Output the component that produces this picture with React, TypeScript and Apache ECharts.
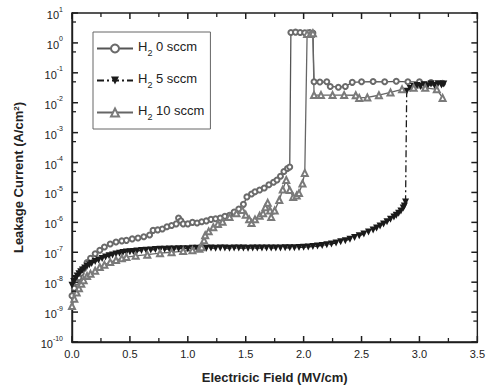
import React, { useEffect, useRef } from "react";
import * as echarts from "echarts";

const seriesNames = ["H2 0 sccm", "H2 5 sccm", "H2 10 sccm"];
const xTicks = { min: 0, max: 3.5, interval: 0.5 };
// y axis in decades (log10 of A/cm2)
const yDecades = { min: -10, max: 1, interval: 1 };
const xMajorTicks = [0, 0.5, 1.0, 1.5, 2.0, 2.5, 3.0, 3.5];
const xMinorTicks = [0.25, 0.75, 1.25, 1.75, 2.25, 2.75, 3.25];
const yMajorTicks = [-10, -9, -8, -7, -6, -5, -4, -3, -2, -1, 0, 1];
const yMinorTicks = [-9.301, -8.301, -7.301, -6.301, -5.301, -4.301, -3.301, -2.301, -1.301, -0.301, 0.699];

// H2 0 sccm (open circles)
const e0 = [0, 0.02, 0.04, 0.06, 0.08, 0.1, 0.13, 0.16, 0.2, 0.24, 0.28, 0.33, 0.38, 0.43, 0.47, 0.52, 0.57, 0.62, 0.67, 0.7, 0.74, 0.78, 0.82, 0.86, 0.9, 0.92, 0.94, 0.96, 1.0, 1.04, 1.08, 1.12, 1.16, 1.2, 1.24, 1.28, 1.32, 1.36, 1.4, 1.44, 1.48, 1.51, 1.55, 1.58, 1.62, 1.66, 1.7, 1.74, 1.77, 1.8, 1.83, 1.86, 1.88, 1.89, 1.93, 1.97, 2.01, 2.05, 2.08, 2.09, 2.14, 2.2, 2.23, 2.3, 2.36, 2.42, 2.5, 2.6, 2.7, 2.8, 2.9, 3.0, 3.1, 3.2];
const j0 = [3.5e-9, 6.3e-9, 1.0e-8, 1.4e-8, 2.0e-8, 2.8e-8, 4.5e-8, 6.3e-8, 8.9e-8, 1.17e-7, 1.5e-7, 1.9e-7, 2.2e-7, 2.4e-7, 2.5e-7, 2.8e-7, 3.0e-7, 3.3e-7, 3.8e-7, 5.4e-7, 5.6e-7, 6.0e-7, 7.1e-7, 7.9e-7, 8.9e-7, 1.4e-6, 1.12e-6, 8.9e-7, 8.9e-7, 1.0e-6, 9.5e-7, 1.05e-6, 1.12e-6, 1.26e-6, 1.32e-6, 1.4e-6, 1.6e-6, 1.74e-6, 2.2e-6, 2.8e-6, 4.0e-6, 7.1e-6, 8.9e-6, 1.05e-5, 1.2e-5, 1.4e-5, 1.8e-5, 2.2e-5, 2.6e-5, 3.5e-5, 5.0e-5, 6.3e-5, 7.1e-5, 2.24, 2.29, 2.24, 2.19, 2.24, 2.14, 0.05, 0.049, 0.05, 0.035, 0.033, 0.035, 0.048, 0.05, 0.051, 0.05, 0.052, 0.05, 0.05, 0.047, 0.045];

// H2 5 sccm (filled down triangles)
const e5 = [
  0, 0.015, 0.03, 0.045, 0.06, 0.075, 0.09, 0.11, 0.13, 0.15,
  0.17, 0.2, 0.23, 0.26, 0.29, 0.32, 0.35, 0.38, 0.41, 0.44,
  0.47, 0.5, 0.53, 0.56, 0.6, 0.64, 0.68, 0.72, 0.76, 0.8,
  0.84, 0.88, 0.92, 0.96, 1.0, 1.04, 1.08, 1.12, 1.16, 1.2,
  1.24, 1.28, 1.32, 1.36, 1.4, 1.44, 1.48, 1.52, 1.56, 1.6,
  1.64, 1.68, 1.72, 1.76, 1.8, 1.84, 1.88, 1.92, 1.96, 2.0,
  2.04, 2.08, 2.12, 2.16, 2.2, 2.24, 2.28, 2.32, 2.36, 2.4,
  2.44, 2.48, 2.52, 2.56, 2.6, 2.63, 2.66, 2.69, 2.72, 2.75,
  2.78, 2.8, 2.82, 2.84, 2.86, 2.87, 2.88, 2.89, 2.92, 2.95,
  2.98, 3.01, 3.04, 3.07, 3.1, 3.13, 3.16, 3.19, 3.21,
];
const j5 = [
  7.9e-9, 1.05e-8, 1.32e-8, 1.62e-8, 1.9e-8, 2.24e-8, 2.57e-8, 3.0e-8, 3.4e-8, 3.8e-8,
  4.2e-8, 4.9e-8, 5.5e-8, 6.2e-8, 6.9e-8, 7.6e-8, 8.1e-8, 8.7e-8, 9.3e-8, 9.8e-8,
  1.02e-7, 1.05e-7, 1.07e-7, 1.1e-7, 1.15e-7, 1.17e-7, 1.2e-7, 1.23e-7, 1.26e-7, 1.26e-7,
  1.29e-7, 1.29e-7, 1.32e-7, 1.32e-7, 1.32e-7, 1.35e-7, 1.35e-7, 1.35e-7, 1.35e-7, 1.38e-7,
  1.37e-7, 1.38e-7, 1.39e-7, 1.37e-7, 1.38e-7, 1.39e-7, 1.38e-7, 1.37e-7, 1.38e-7, 1.39e-7,
  1.38e-7, 1.39e-7, 1.38e-7, 1.4e-7, 1.39e-7, 1.41e-7, 1.41e-7, 1.42e-7, 1.45e-7, 1.48e-7,
  1.51e-7, 1.55e-7, 1.62e-7, 1.7e-7, 1.78e-7, 1.9e-7, 2.04e-7, 2.24e-7, 2.45e-7, 2.75e-7,
  3.1e-7, 3.55e-7, 4.1e-7, 4.8e-7, 5.6e-7, 6.5e-7, 7.6e-7, 8.9e-7, 1.05e-6, 1.26e-6,
  1.5e-6, 1.74e-6, 2.0e-6, 2.4e-6, 3.0e-6, 3.55e-6, 4.8e-6, 0.024, 0.03, 0.035,
  0.038, 0.035, 0.04, 0.036, 0.042, 0.038, 0.043, 0.039, 0.042,
];

// H2 10 sccm (open up triangles)
const e10 = [0, 0.02, 0.04, 0.06, 0.08, 0.1, 0.13, 0.16, 0.2, 0.24, 0.28, 0.33, 0.38, 0.43, 0.47, 0.55, 0.65, 0.76, 0.86, 0.96, 1.04, 1.1, 1.12, 1.14, 1.15, 1.18, 1.22, 1.26, 1.3, 1.36, 1.42, 1.47, 1.5, 1.53, 1.55, 1.58, 1.62, 1.65, 1.67, 1.69, 1.71, 1.72, 1.75, 1.79, 1.82, 1.85, 1.88, 1.91, 1.94, 1.96, 1.99, 2.01, 2.03, 2.06, 2.08, 2.09, 2.15, 2.25, 2.35, 2.45, 2.48, 2.55, 2.65, 2.75, 2.85, 2.95, 3.05, 3.15, 3.2];
const j10 = [1.6e-9, 2.8e-9, 4.5e-9, 6.3e-9, 8.9e-9, 1.17e-8, 1.6e-8, 1.9e-8, 2.4e-8, 3.2e-8, 3.8e-8, 4.7e-8, 5.5e-8, 6.3e-8, 6.9e-8, 7.6e-8, 8.3e-8, 9.3e-8, 1.0e-7, 1.1e-7, 1.17e-7, 1.32e-7, 1.48e-7, 2.5e-7, 3.7e-7, 5.0e-7, 6.9e-7, 8.9e-7, 1.05e-6, 1.5e-6, 2.0e-6, 2.6e-6, 1.8e-6, 1.26e-6, 9.5e-7, 1.26e-6, 1.66e-6, 2.0e-6, 3.2e-6, 4.5e-6, 2.5e-6, 1.5e-6, 2.5e-6, 5.6e-6, 1.26e-5, 2.6e-5, 1.2e-5, 7.1e-6, 7.9e-6, 9.5e-6, 2.0e-5, 4.5e-5, 2.0, 2.0, 2.1, 0.018, 0.018, 0.018, 0.018, 0.0178, 0.0145, 0.015, 0.0178, 0.022, 0.028, 0.0316, 0.0316, 0.028, 0.0145];

// pairs [field, log10(current)] for the decade axis
const zipLog = (xs: number[], ys: number[]) => {
  const n = Math.min(xs.length, ys.length);
  const out: number[][] = [];
  for (let i = 0; i < n; i++) out.push([xs[i], Math.log10(ys[i])]);
  return out;
};

const FONT = "Liberation Sans, Arial, sans-serif";
const AX = "#1e1e1e";

// inward tick marks on both opposite sides of the frame, placed through the axes' own scales
const tickSeries = (values: number[], dir: "x" | "y", len: number, width: number) => ({
  type: "custom",
  silent: true,
  xAxisIndex: 0,
  yAxisIndex: 0,
  z: 10,
  clip: false,
  data: values.map((v) => (dir === "x" ? [v, yDecades.min] : [xTicks.min, v])),
  renderItem: (_params: any, api: any) => {
    const style = { stroke: AX, lineWidth: width };
    if (dir === "x") {
      const v = api.value(0);
      const b = api.coord([v, yDecades.min]);
      const t = api.coord([v, yDecades.max]);
      return {
        type: "group",
        children: [
          { type: "line", shape: { x1: b[0], y1: b[1], x2: b[0], y2: b[1] - len }, style },
          { type: "line", shape: { x1: t[0], y1: t[1], x2: t[0], y2: t[1] + len }, style },
        ],
      };
    }
    const v = api.value(1);
    const l = api.coord([xTicks.min, v]);
    const r = api.coord([xTicks.max, v]);
    return {
      type: "group",
      children: [
        { type: "line", shape: { x1: l[0], y1: l[1], x2: l[0] + len, y2: l[1] }, style },
        { type: "line", shape: { x1: r[0], y1: r[1], x2: r[0] - len, y2: r[1] }, style },
      ],
    };
  },
});

export default function App() {
  const ref = useRef<HTMLDivElement>(null);
  useEffect(() => {
    if (!ref.current) return;
    const chart = echarts.init(ref.current, undefined, { renderer: "svg" });
    const option: any = {
      animation: false,
      backgroundColor: "#fff",
      grid: { left: 72, right: 10, top: 13, bottom: 48, show: true, borderColor: AX, borderWidth: 1.4, backgroundColor: "transparent" },
      legend: {
        orient: "vertical",
        left: 93,
        top: 32,
        itemWidth: 36,
        itemHeight: 10,
        itemGap: 15,
        padding: [8, 6, 8, 3],
        borderColor: "#666",
        borderWidth: 1,
        data: seriesNames,
        formatter: (name: string) => `{n|H}{s|2}{n|${name.slice(2)}}`,
        textStyle: {
          fontFamily: FONT,
          color: "#222",
          rich: {
            n: { fontSize: 13, fontFamily: FONT, color: "#222", lineHeight: 17, verticalAlign: "top" },
            s: { fontSize: 9, fontFamily: FONT, color: "#222", lineHeight: 9, verticalAlign: "bottom" },
          },
        },
      },
      xAxis: {
        type: "value",
        min: xTicks.min,
        max: xTicks.max,
        interval: xTicks.interval,
        axisLine: { show: true, onZero: false, lineStyle: { color: AX, width: 1.4 } },
        axisTick: { show: false },
        splitLine: { show: false },
        name: "Electricic Field (MV/cm)",
        nameLocation: "middle",
        nameGap: 29,
        nameTextStyle: { fontFamily: FONT, fontSize: 13, fontWeight: "bold", color: "#222" },
        axisLabel: { show: true, margin: 6, fontFamily: FONT, fontSize: 11, color: "#222", formatter: (v: number) => v.toFixed(1) },
      },
      yAxis: {
        type: "value",
        min: yDecades.min,
        max: yDecades.max,
        interval: yDecades.interval,
        axisLine: { show: true, onZero: false, lineStyle: { color: AX, width: 1.4 } },
        axisTick: { show: false },
        splitLine: { show: false },
        name: "Leakage Current (A/cm{s|2})",
        nameLocation: "middle",
        nameGap: 47,
        nameRotate: 90,
        nameTextStyle: {
          fontFamily: FONT,
          fontSize: 13,
          fontWeight: "bold",
          color: "#222",
          rich: {
            s: { fontSize: 8, fontFamily: FONT, fontWeight: "bold", color: "#222", verticalAlign: "top", lineHeight: 8 },
          },
        },
        axisLabel: {
          show: true,
          margin: 9,
          formatter: (v: number) => `{b|10}{s|${Math.round(v)}}`,
          rich: {
            b: { fontSize: 11, fontFamily: FONT, color: "#222", lineHeight: 15, verticalAlign: "bottom" },
            s: { fontSize: 7, fontFamily: FONT, color: "#222", lineHeight: 7, verticalAlign: "top" },
          },
        },
      },
      series: [
        {
          name: seriesNames[0],
          type: "line",
          data: zipLog(e0, j0),
          symbol: "emptyCircle",
          symbolSize: 5,
          lineStyle: { color: "#555", width: 1.3 },
          itemStyle: { color: "#6a6a6a", borderWidth: 1 },
        },
        {
          name: seriesNames[1],
          type: "line",
          data: zipLog(e5, j5),
          symbol: "triangle",
          symbolRotate: 180,
          symbolSize: 7,
          lineStyle: { color: "#1a1a1a", width: 1.3, type: [7, 3, 2, 3] },
          itemStyle: { color: "#1a1a1a" },
        },
        {
          name: seriesNames[2],
          type: "line",
          data: zipLog(e10, j10),
          symbol: "emptyTriangle",
          symbolSize: 6,
          lineStyle: { color: "#666", width: 1.3 },
          itemStyle: { color: "#7a7a7a", borderWidth: 1 },
        },
        tickSeries(xMajorTicks, "x", 6, 1.5),
        tickSeries(xMinorTicks, "x", 4, 1.3),
        tickSeries(yMajorTicks, "y", 6, 1.5),
        tickSeries(yMinorTicks, "y", 4, 1.3),
      ],
    };
    chart.setOption(option);
    return () => chart.dispose();
  }, []);
  return <div ref={ref} style={{ width: 488, height: 390, position: "absolute", left: 0, top: 0 }} />;
}
